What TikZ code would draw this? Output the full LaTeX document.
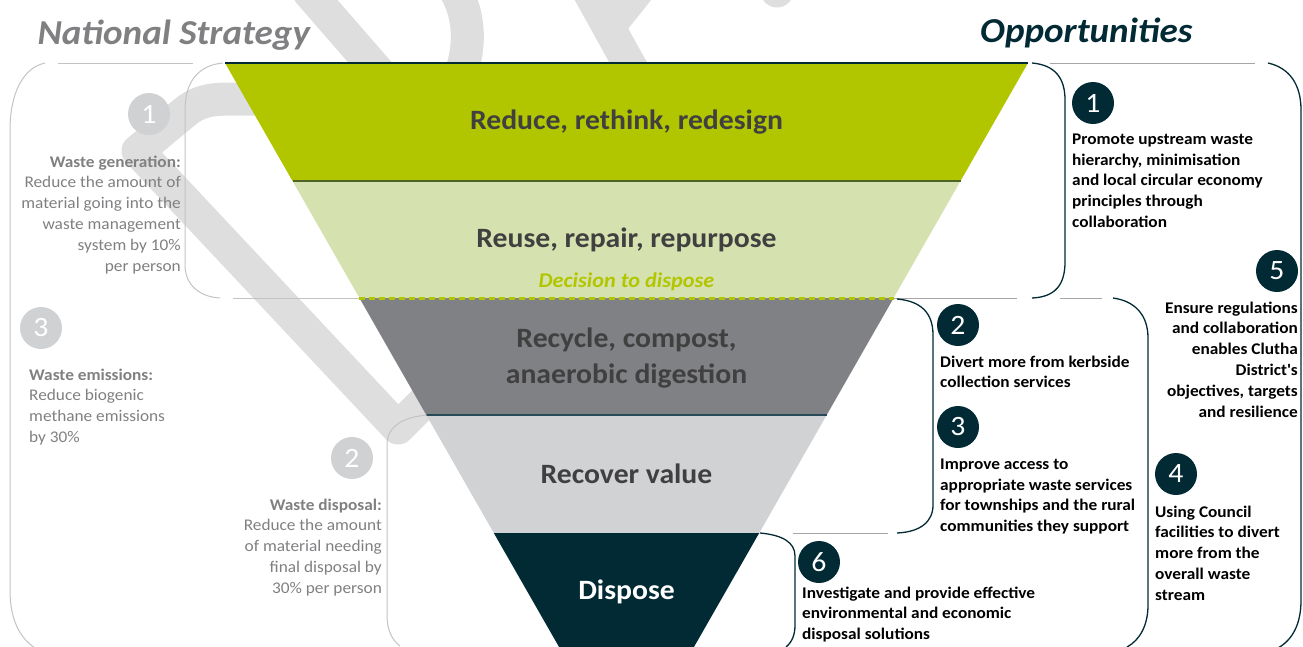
\documentclass[tikz,border=0pt]{standalone}
\usepackage{fontspec}
\setmainfont{Carlito}[FakeStretch=1.06]
\definecolor{reduceGreen}{RGB}{178,198,0}
\definecolor{reuseGreen}{RGB}{214,225,176}
\definecolor{recycleGrey}{RGB}{128,129,133}
\definecolor{recoverGrey}{RGB}{209,210,212}
\definecolor{disposeTeal}{RGB}{2,42,53}
\definecolor{reduceEdge}{RGB}{80,100,40}
\definecolor{recycleEdge}{RGB}{40,75,90}
\definecolor{bandText}{RGB}{64,64,64}
\definecolor{natGrey}{RGB}{128,128,130}
\definecolor{natCircle}{RGB}{208,209,211}
\definecolor{natBracket}{RGB}{195,195,195}
\definecolor{oppGrey}{RGB}{166,166,166}
\definecolor{markGrey}{RGB}{222,222,222}
\tikzset{
  wmark/.style={draw=markGrey, line width=33pt, line join=round},
  natline/.style={draw=natBracket, line width=1pt},
  oppline/.style={draw=disposeTeal, line width=1.3pt},
  oppgrey/.style={draw=oppGrey, line width=1pt},
  natnum/.style={circle, fill=natCircle, text=white, minimum size=42pt, inner sep=0pt,
    font=\fontsize{28}{28}\selectfont},
  oppnum/.style={natnum, fill=disposeTeal},
  nattext/.style={text=natGrey, inner sep=0pt, font=\fontsize{16.3}{20.8}\selectfont},
  opptext/.style={text=black, inner sep=0pt, align=left, anchor=north west,
    font=\bfseries\fontsize{16.3}{20.8}\selectfont},
  bandlabel/.style={text=bandText, align=center, font=\bfseries\fontsize{28}{36}\selectfont},
  heading/.style={font=\bfseries\itshape\fontsize{35}{35}\selectfont}
}
\begin{document}
\begin{tikzpicture}[x=1pt,y=-1pt]
  \useasboundingbox (0,0) rectangle (1303,646);
  \begin{scope}[wmark]
    \draw (300,99) -- (235,99) .. controls (212,99) and (200,100) .. (185,112)
      -- (138,151) -- (398,428) -- (445,381);
    \draw (307,-10) -- (387,82);
    \draw (455,-10) .. controls (470,15) and (470,45) .. (462,70);
    \draw (588,-10) -- (634,73);
    \draw (610,25) -- (658,-35);
    \fill[markGrey] (777,-9) circle (16.5);
  \end{scope}
  \fill[reduceGreen] (225,63) -- (1028,63) -- (960.5,181) -- (292.5,181) -- cycle;
  \fill[reuseGreen] (292.5,181) -- (960.5,181) -- (893.6,298) -- (359.4,298) -- cycle;
  \fill[recycleGrey] (359.4,298) -- (893.6,298) -- (826.7,415) -- (426.3,415) -- cycle;
  \fill[recoverGrey] (426.3,415) -- (826.7,415) -- (759.2,533) -- (493.8,533) -- cycle;
  \fill[disposeTeal] (493.8,533) -- (759.2,533) -- (686.5,660) -- (566.5,660) -- cycle;
  \draw[disposeTeal, line width=1.2pt] (225,63) -- (1028,63);
  \draw[reduceEdge, line width=1.5pt] (292.5,181) -- (960.5,181);
  \draw[reduceGreen, line width=3pt, dash pattern=on 6pt off 4pt] (359.4,298) -- (893.6,298);
  \draw[recycleEdge, line width=1.5pt] (426.3,415) -- (826.7,415);
  \node[bandlabel] (reduce) at (626.5,122) {Reduce, rethink, redesign};
  \node[bandlabel] (reuse) at (626.5,240) {Reuse, repair, repurpose};
  \node[bandlabel, text=reduceGreen, font=\bfseries\itshape\fontsize{21}{21}\selectfont] (decide) at (626.5,282) {Decision to dispose};
  \node[bandlabel] (recycle) at (626.5,358) {Recycle, compost,\\anaerobic digestion};
  \node[bandlabel] (recover) at (626.5,474) {Recover value};
  \node[bandlabel, text=white] (dispose) at (626.5,592) {Dispose};
  \node[heading, text=natGrey, anchor=base west] (national) at (34,44) {National Strategy};
  \node[heading, text=disposeTeal, anchor=base east] (opps) at (1196,42) {Opportunities};
  \draw[natline] (58,63) -- (193,63);
  \draw[natline] (45,63) .. controls (22,68) and (10,95) .. (10,130) -- (10,590)
    .. controls (10,620) and (20,638) .. (35,648);
  \draw[natline] (223,63) .. controls (200,65) and (185,80) .. (185,110) -- (185,265)
    .. controls (185,285) and (200,297) .. (220,298);
  \draw[natline] (233,298) -- (359,298);
  \draw[natline] (427,415) .. controls (405,417) and (387,425) .. (387,445) -- (387,615)
    .. controls (387,630) and (392,640) .. (400,646);
  \draw[oppline] (1032,63) .. controls (1055,65) and (1065,78) .. (1065,100) -- (1065,262)
    .. controls (1065,285) and (1055,297) .. (1032,298);
  \draw[oppgrey] (1050,63) -- (1255,63);
  \draw[oppline] (1268,63) .. controls (1290,68) and (1301,85) .. (1301,110) -- (1301,600)
    .. controls (1301,625) and (1292,640) .. (1278,648);
  \draw[oppgrey] (893.6,298) -- (1017,298);
  \draw[oppgrey] (1060,298) -- (1102,298);
  \draw[oppline] (897,299) .. controls (920,301) and (933,312) .. (933,335) -- (933,505)
    .. controls (933,522) and (920,532) .. (897,533);
  \draw[oppline] (1113,298) .. controls (1135,301) and (1148,315) .. (1148,338) -- (1148,605)
    .. controls (1148,625) and (1140,640) .. (1127,647);
  \draw[oppgrey] (793,533) -- (888,533);
  \draw[oppline] (760,533) .. controls (782,535) and (795,542) .. (795,556) -- (795,625)
    .. controls (795,635) and (792,642) .. (786,647);
  \node[natnum] (nat1) at (149,114) {1};
  \node[natnum] (nat3) at (41,328) {3};
  \node[natnum] (nat2) at (352,458) {2};
  \node[nattext, anchor=north east, align=right] (generation) at (181,155.5)
    {\textbf{Waste generation:}\\Reduce the amount of\\material going into the\\waste management\\system by 10\%\\per person};
  \node[nattext, anchor=north west, align=left] (emissions) at (29,368.5)
    {\textbf{Waste emissions:}\\Reduce biogenic\\methane emissions\\by 30\%};
  \node[nattext, anchor=north east, align=right] (disposal) at (382,498.5)
    {\textbf{Waste disposal:}\\Reduce the amount\\of material needing\\final disposal by\\30\% per person};
  \node[oppnum] (opp1) at (1093,103) {1};
  \node[oppnum] (opp5) at (1277,271) {5};
  \node[oppnum] (opp2) at (958,325) {2};
  \node[oppnum] (opp3) at (958,427) {3};
  \node[oppnum] (opp4) at (1176,474) {4};
  \node[oppnum] (opp6) at (819,562) {6};
  \node[opptext] (promote) at (1072,133.5)
    {Promote upstream waste\\hierarchy, minimisation\\and local circular economy\\principles through\\collaboration};
  \node[opptext, anchor=north east, align=right] (ensure) at (1298,301.5)
    {Ensure regulations\\and collaboration\\enables Clutha\\District\textquotesingle s\\objectives, targets\\and resilience};
  \node[opptext] (divert) at (940,355.5) {Divert more from kerbside\\collection services};
  \node[opptext] (improve) at (940,458.5)
    {Improve access to\\appropriate waste services\\for townships and the rural\\communities they support};
  \node[opptext] (council) at (1155,505.5)
    {Using Council\\facilities to divert\\more from the\\overall waste\\stream};
  \node[opptext] (investigate) at (802,586.5)
    {Investigate and provide effective\\environmental and economic\\disposal solutions};
\end{tikzpicture}
\end{document}
